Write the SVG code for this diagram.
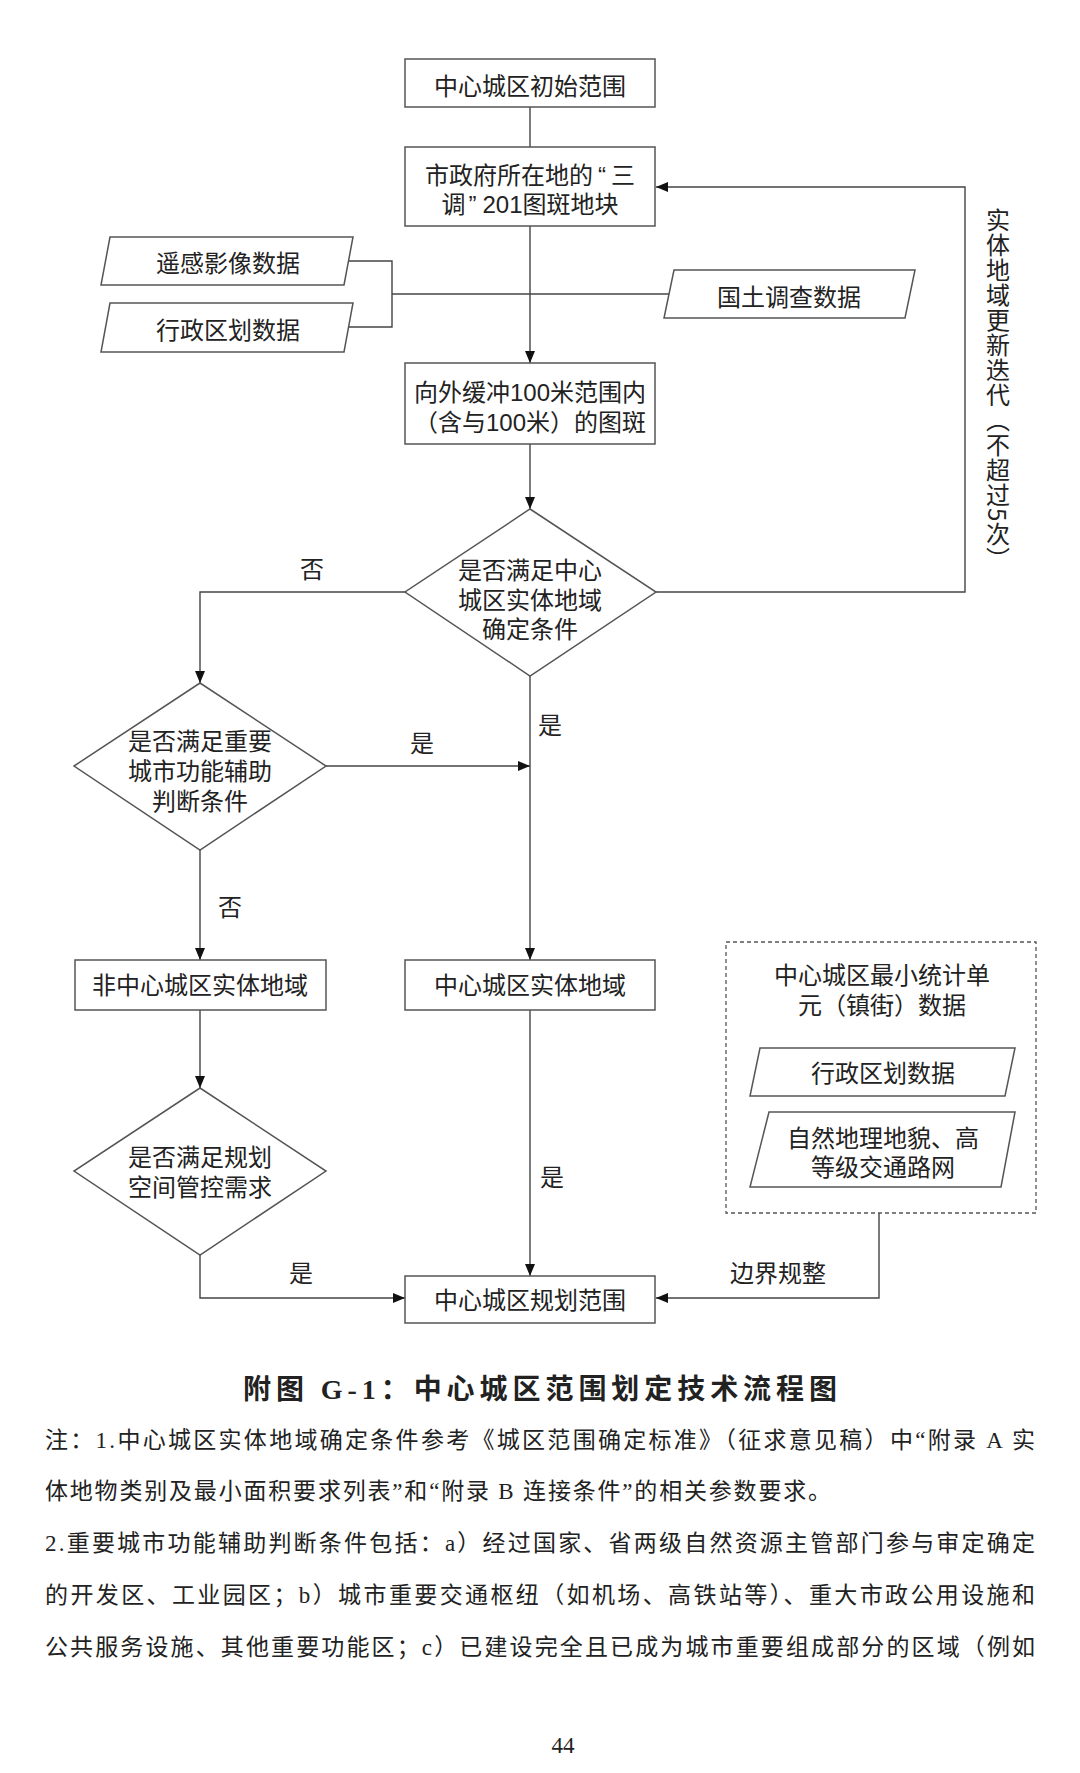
<svg xmlns="http://www.w3.org/2000/svg" width="1080" height="1773" viewBox="0 0 1080 1773">
<style>
.bx{fill:#fff;stroke:#555;stroke-width:1.5}
.ln{fill:none;stroke:#444;stroke-width:1.4}
.t{font-family:"Liberation Sans","Noto Sans CJK SC",sans-serif;font-size:24px;fill:#222;text-anchor:middle}
.cjk{font-family:"Noto Sans CJK SC",sans-serif}
.note{font-family:"Liberation Serif","Noto Sans CJK SC",serif;font-size:23px;fill:#222}
.title{font-family:"Liberation Serif","Noto Sans CJK SC",serif;font-size:28px;font-weight:bold;fill:#222}
</style>
<defs>
<marker id="ah" viewBox="0 0 12 10" refX="12" refY="5" markerWidth="12" markerHeight="10" markerUnits="userSpaceOnUse" orient="auto"><path d="M0,0 L12,5 L0,10 z" fill="#111"/></marker>
</defs>
<rect width="1080" height="1773" fill="#fff"/>

<g id="connectors">
<line class="ln" x1="530" y1="107" x2="530" y2="147"/>
<line class="ln" x1="530" y1="226" x2="530" y2="363" marker-end="url(#ah)"/>
<polyline class="ln" points="348,261 392,261 392,327 348,327"/>
<line class="ln" x1="392" y1="294" x2="669" y2="294"/>
<line class="ln" x1="530" y1="444" x2="530" y2="509" marker-end="url(#ah)"/>
<polyline class="ln" points="656,592 965,592 965,187 656,187" marker-end="url(#ah)"/>
<polyline class="ln" points="405,592 200,592 200,683" marker-end="url(#ah)"/>
<line class="ln" x1="530" y1="676" x2="530" y2="960" marker-end="url(#ah)"/>
<line class="ln" x1="326" y1="766" x2="530" y2="766" marker-end="url(#ah)"/>
<line class="ln" x1="200" y1="850" x2="200" y2="960" marker-end="url(#ah)"/>
<line class="ln" x1="200" y1="1010" x2="200" y2="1088" marker-end="url(#ah)"/>
<polyline class="ln" points="200,1255 200,1298 405,1298" marker-end="url(#ah)"/>
<line class="ln" x1="530" y1="1010" x2="530" y2="1276" marker-end="url(#ah)"/>
<polyline class="ln" points="879,1213 879,1298 656,1298" marker-end="url(#ah)"/>
<text class="t" x="312" y="578">否</text>
<text class="t" x="550" y="734">是</text>
<text class="t" x="422" y="752">是</text>
<text class="t" x="230" y="916">否</text>
<text class="t" x="552" y="1186">是</text>
<text class="t" x="301" y="1282">是</text>
<text class="t" x="778" y="1282">边界规整</text>
<text class="t cjk" x="998" y="208" style="writing-mode:vertical-rl;text-anchor:start;letter-spacing:1px">实体地域更新迭代（不超过5次）</text>
</g>

<g id="n1">
<rect class="bx" x="405" y="59" width="250" height="48"/>
<text class="t" x="530" y="95">中心城区初始范围</text>
</g>
<g id="n2">
<rect class="bx" x="405" y="147" width="250" height="79"/>
<text class="t" x="530" y="184">市政府所在地的<tspan dx="5">“</tspan><tspan dx="5">三</tspan></text>
<text class="t" x="530" y="213">调<tspan dx="3">”</tspan><tspan dx="6">201图斑地块</tspan></text>
</g>
<g id="d_rs">
<polygon class="bx" points="110,237 353,237 344,285 101,285"/>
<text class="t" x="228" y="272">遥感影像数据</text>
</g>
<g id="d_ad">
<polygon class="bx" points="110,303 353,303 344,352 101,352"/>
<text class="t" x="228" y="339">行政区划数据</text>
</g>
<g id="d_land">
<polygon class="bx" points="674,270 915,270 905,318 664,318"/>
<text class="t" x="789" y="306">国土调查数据</text>
</g>
<g id="n3">
<rect class="bx" x="405" y="363" width="250" height="81"/>
<text class="t" x="530" y="401">向外缓冲100米范围内</text>
<text class="t" x="530" y="431">（含与100米）的图斑</text>
</g>
<g id="q1">
<polygon class="bx" points="530,509 656,592 530,676 405,592"/>
<text class="t" x="530" y="579">是否满足中心</text>
<text class="t" x="530" y="609">城区实体地域</text>
<text class="t" x="530" y="638">确定条件</text>
</g>
<g id="q2">
<polygon class="bx" points="200,683 326,766 200,850 74,766"/>
<text class="t" x="200" y="750">是否满足重要</text>
<text class="t" x="200" y="780">城市功能辅助</text>
<text class="t" x="200" y="810">判断条件</text>
</g>
<g id="n_non">
<rect class="bx" x="75" y="960" width="251" height="50"/>
<text class="t" x="200" y="994">非中心城区实体地域</text>
</g>
<g id="n_core">
<rect class="bx" x="405" y="960" width="250" height="50"/>
<text class="t" x="530" y="994">中心城区实体地域</text>
</g>
<g id="q3">
<polygon class="bx" points="200,1088 326,1171 200,1255 74,1171"/>
<text class="t" x="200" y="1166">是否满足规划</text>
<text class="t" x="200" y="1196">空间管控需求</text>
</g>
<g id="n_final">
<rect class="bx" x="405" y="1276" width="250" height="47"/>
<text class="t" x="530" y="1309">中心城区规划范围</text>
</g>
<g id="grp_unit">
<rect x="726" y="942" width="310" height="271" fill="none" stroke="#555" stroke-width="1.3" stroke-dasharray="4,3"/>
<text class="t" x="882" y="984">中心城区最小统计单</text>
<text class="t" x="882" y="1014">元（镇街）数据</text>
</g>
<g id="d_ad2">
<polygon class="bx" points="760,1048 1015,1048 1005,1096 750,1096"/>
<text class="t" x="883" y="1082">行政区划数据</text>
</g>
<g id="d_geo">
<polygon class="bx" points="769,1112 1015,1112 1001,1187 750,1187"/>
<text class="t" x="883" y="1147">自然地理地貌、高</text>
<text class="t" x="883" y="1176">等级交通路网</text>
</g>

<g id="caption">
<text class="title" x="243" y="1399" textLength="594" lengthAdjust="spacing">附图 G-1：中心城区范围划定技术流程图</text>
<text class="note" x="45" y="1448" textLength="990" lengthAdjust="spacing">注：1.中心城区实体地域确定条件参考《城区范围确定标准》（征求意见稿）中“附录 A 实</text>
<text class="note" x="45" y="1499" textLength="786" lengthAdjust="spacing">体地物类别及最小面积要求列表”和“附录 B 连接条件”的相关参数要求。</text>
<text class="note" x="45" y="1551" textLength="990" lengthAdjust="spacing">2.重要城市功能辅助判断条件包括：a）经过国家、省两级自然资源主管部门参与审定确定</text>
<text class="note" x="45" y="1603" textLength="990" lengthAdjust="spacing">的开发区、工业园区；b）城市重要交通枢纽（如机场、高铁站等）、重大市政公用设施和</text>
<text class="note" x="45" y="1655" textLength="990" lengthAdjust="spacing">公共服务设施、其他重要功能区；c）已建设完全且已成为城市重要组成部分的区域（例如</text>
<text class="note" x="563" y="1753" text-anchor="middle">44</text>
</g>
</svg>
